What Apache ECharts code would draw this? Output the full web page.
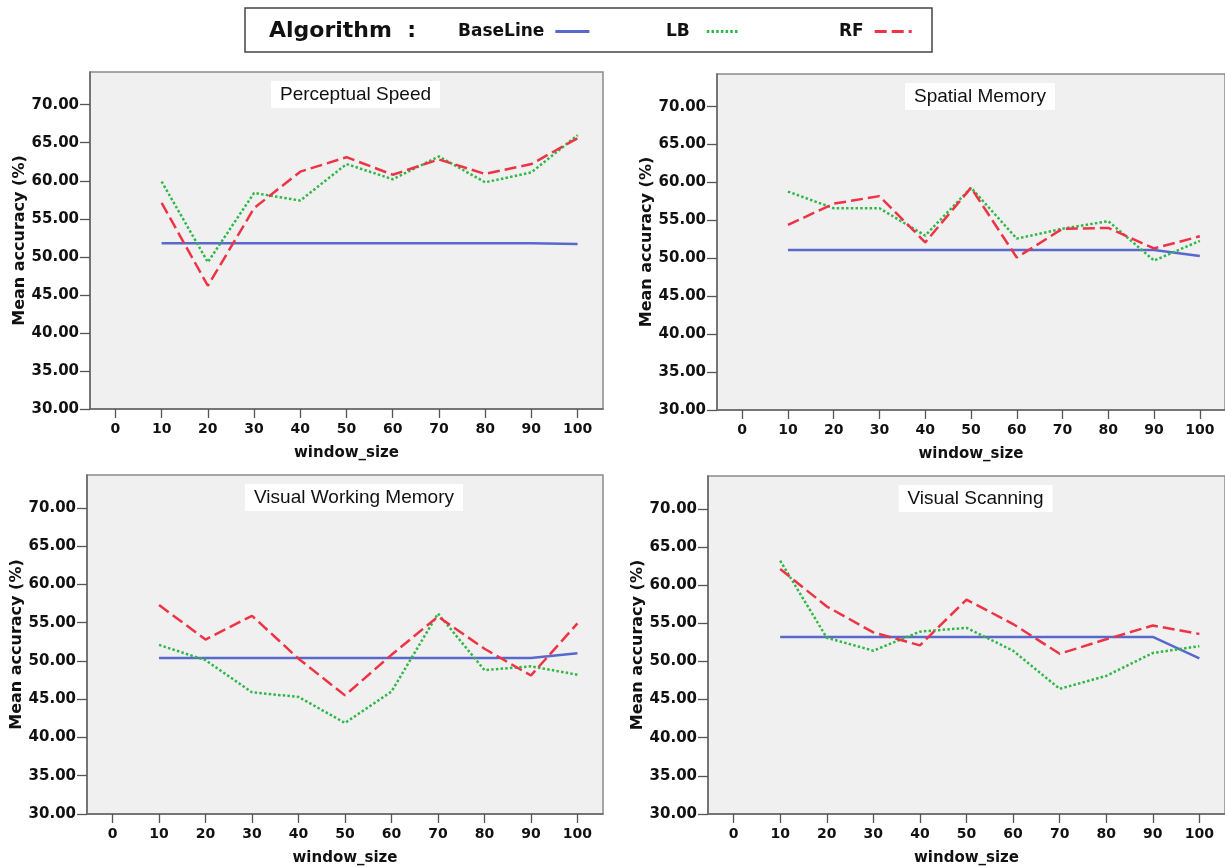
<!DOCTYPE html>
<html>
<head>
<meta charset="utf-8">
<script src="https://cdn.jsdelivr.net/npm/echarts@6/dist/echarts.min.js"></script>
<style>html,body{margin:0;padding:0;background:#fff;}#main{width:1225px;height:867px;}</style>
</head>
<body>
<div id="main"></div>
<script>
const windowSizes = [10, 20, 30, 40, 50, 60, 70, 80, 90, 100];
const xTickLabels = [0, 10, 20, 30, 40, 50, 60, 70, 80, 90, 100];
const yTickLabels = [30, 35, 40, 45, 50, 55, 60, 65, 70];
const seriesNames = ['BaseLine', 'LB', 'RF'];
const panelTitles = ['Perceptual Speed', 'Spatial Memory', 'Visual Working Memory', 'Visual Scanning'];

const psBase = [51.8, 51.8, 51.8, 51.8, 51.8, 51.8, 51.8, 51.8, 51.8, 51.7];
const psLB   = [59.9, 49.3, 58.4, 57.4, 62.2, 60.2, 63.2, 59.8, 61.1, 66.0];
const psRF   = [57.1, 46.2, 56.4, 61.2, 63.1, 60.8, 62.8, 60.9, 62.2, 65.6];

const smBase = [51.1, 51.1, 51.1, 51.1, 51.1, 51.1, 51.1, 51.1, 51.1, 50.3];
const smLB   = [58.8, 56.6, 56.6, 53.0, 59.3, 52.6, 53.9, 54.9, 49.7, 52.3];
const smRF   = [54.4, 57.2, 58.2, 52.1, 59.3, 50.1, 53.9, 54.0, 51.3, 52.9];

const vwmBase = [50.4, 50.4, 50.4, 50.4, 50.4, 50.4, 50.4, 50.4, 50.4, 51.0];
const vwmLB   = [52.1, 50.1, 45.9, 45.3, 41.9, 46.0, 56.2, 48.8, 49.3, 48.2];
const vwmRF   = [57.3, 52.8, 55.9, 50.3, 45.5, 50.8, 55.8, 51.6, 48.1, 54.9];

const vsBase = [53.2, 53.2, 53.2, 53.2, 53.2, 53.2, 53.2, 53.2, 53.2, 50.4];
const vsLB   = [63.2, 53.1, 51.4, 53.9, 54.4, 51.4, 46.4, 48.1, 51.1, 52.0];
const vsRF   = [62.1, 57.2, 53.8, 52.1, 58.1, 54.9, 51.0, 52.9, 54.7, 53.6];

const panelData = [
  [psBase, psLB, psRF],
  [smBase, smLB, smRF],
  [vwmBase, vwmLB, vwmRF],
  [vsBase, vsLB, vsRF]
];

const grids = [
  {left: 90, top: 72, width: 513, height: 337},
  {left: 717, top: 74, width: 508, height: 336},
  {left: 87, top: 475, width: 516, height: 339},
  {left: 708, top: 476, width: 517, height: 339}
];

const colors = {BaseLine: '#5868cc', LB: '#2fb847', RF: '#ee3344'};
const lineStyles = {
  BaseLine: {width: 2.5, type: 'solid'},
  LB: {width: 2.5, type: [2.5, 2.2]},
  RF: {width: 2.5, type: [12, 5]}
};
const boldFont = 'DejaVu Sans';
const legendText = {fontFamily: boldFont, fontWeight: 'bold', fontSize: 17, color: '#111'};

const option = {
  animation: false,
  backgroundColor: '#ffffff',
  graphic: [
    {type: 'rect', shape: {x: 245, y: 8, width: 687, height: 44},
     style: {fill: '#ffffff', stroke: '#444444', lineWidth: 1.5}, z: 0},
    {type: 'text', left: 269, top: 20,
     style: {text: 'Algorithm  :', font: 'bold 22px "DejaVu Sans"', fill: '#111111'}, z: 10}
  ],
  legend: [
    {data: ['BaseLine'], left: 453, top: 18, align: 'right', itemWidth: 34, itemHeight: 10,
     itemStyle: {opacity: 0}, lineStyle: {width: 3},
     textStyle: Object.assign({padding: [0, 6, 0, 0]}, legendText)},
    {data: ['LB'], left: 661, top: 18, align: 'right', itemWidth: 32, itemHeight: 10,
     itemStyle: {opacity: 0}, lineStyle: {width: 3},
     textStyle: Object.assign({padding: [0, 12, 0, 0]}, legendText)},
    {data: ['RF'], left: 834, top: 18, align: 'right', itemWidth: 37, itemHeight: 10,
     itemStyle: {opacity: 0}, lineStyle: {width: 3},
     textStyle: Object.assign({padding: [0, 6, 0, 0]}, legendText)}
  ],
  title: grids.map((g, i) => ({
    text: panelTitles[i],
    left: g.left + g.width / 2,
    top: g.top + 9,
    textAlign: 'center',
    backgroundColor: '#ffffff',
    padding: [4, 9, 4, 9],
    textStyle: {fontFamily: 'Liberation Sans', fontWeight: 'normal', fontSize: 19, color: '#111'}
  })),
  grid: grids.map(g => ({
    left: g.left, top: g.top, width: g.width, height: g.height,
    show: true, backgroundColor: '#f0f0f0', borderColor: '#8a8a8a', borderWidth: 1.5,
    containLabel: false
  })),
  xAxis: grids.map((g, i) => ({
    type: 'value', gridIndex: i, min: -5.5, max: 105.5,
    name: 'window_size', nameLocation: 'middle', nameGap: 37,
    nameTextStyle: {fontFamily: boldFont, fontWeight: 'bold', fontSize: 15, color: '#111'},
    axisLine: {show: true, onZero: false, lineStyle: {color: '#666666', width: 1.5}},
    axisTick: {show: true, length: 9, customValues: xTickLabels, lineStyle: {color: '#555555', width: 1.3}},
    axisLabel: {customValues: xTickLabels, margin: 13, fontFamily: boldFont, fontWeight: 'bold', fontSize: 14, color: '#111'},
    splitLine: {show: false}
  })),
  yAxis: grids.map((g, i) => ({
    type: 'value', gridIndex: i, min: 30, max: 74.3,
    name: 'Mean accuracy (%)', nameLocation: 'middle', nameGap: 59, nameRotate: 90,
    nameTextStyle: {fontFamily: boldFont, fontWeight: 'bold', fontSize: 16, color: '#111'},
    axisLine: {show: true, onZero: false, lineStyle: {color: '#666666', width: 1.5}},
    axisTick: {show: true, length: 10, customValues: yTickLabels, lineStyle: {color: '#555555', width: 1.3}},
    axisLabel: {customValues: yTickLabels, margin: 11, fontFamily: boldFont, fontWeight: 'bold', fontSize: 15, color: '#111',
      formatter: v => v.toFixed(2)},
    splitLine: {show: false}
  })),
  series: []
};

panelData.forEach((sets, gi) => {
  sets.forEach((vals, si) => {
    const name = seriesNames[si];
    option.series.push({
      type: 'line', name: name, xAxisIndex: gi, yAxisIndex: gi,
      symbol: 'none', showSymbol: false,
      color: colors[name],
      lineStyle: Object.assign({color: colors[name]}, lineStyles[name]),
      data: windowSizes.map((x, k) => [x, vals[k]]),
      z: si === 0 ? 2 : (si === 1 ? 3 : 4)
    });
  });
});

const chart = echarts.init(document.getElementById('main'), null, {renderer: 'canvas'});
chart.setOption(option);
</script>
</body>
</html>
